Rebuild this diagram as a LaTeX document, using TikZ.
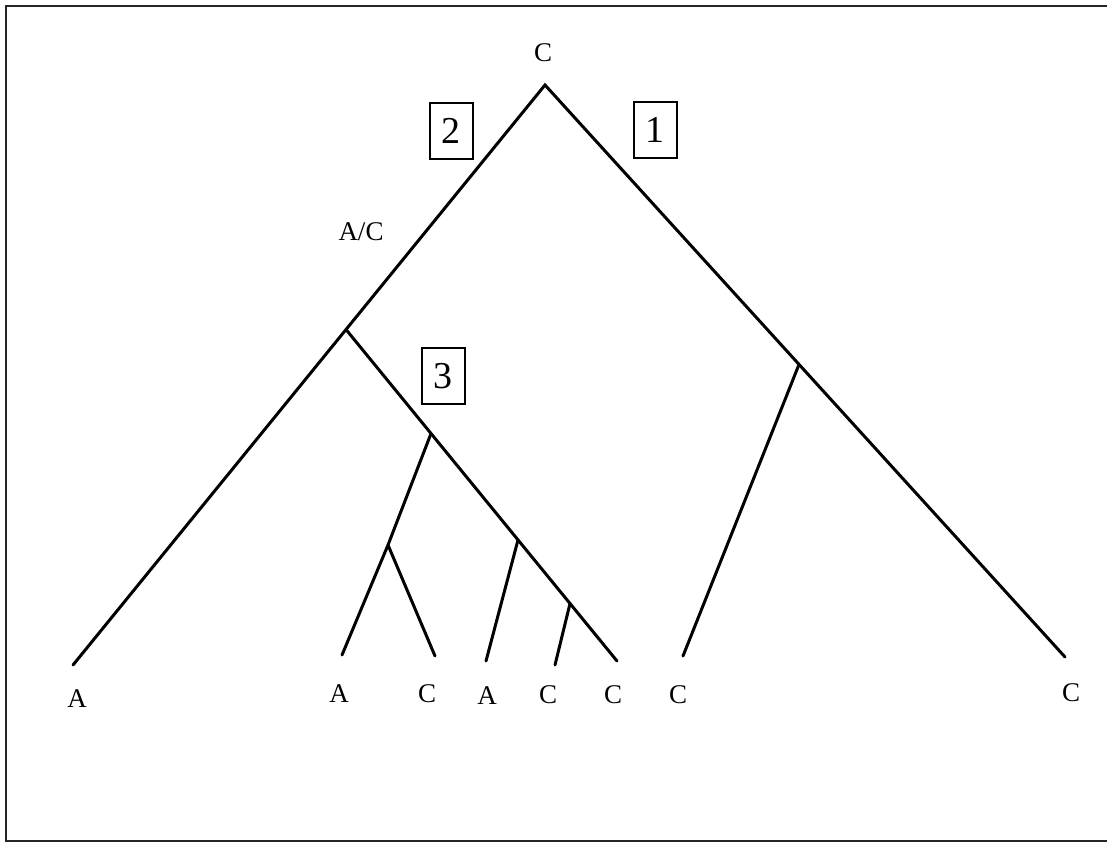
\documentclass[tikz,border=0pt]{standalone}
\usepackage{fontspec}
\setmainfont{Liberation Serif}
\usetikzlibrary{calc}
\begin{document}
\begin{tikzpicture}[x=1pt,y=-1pt,
  branch/.style={line width=3pt, line cap=round},
  leaflab/.style={font=\fontsize{27}{27}\selectfont, inner sep=0pt},
  numbox/.style={draw, line width=2pt, minimum width=43pt, minimum height=56pt, inner sep=0pt, font=\fontsize{38}{38}\selectfont},
  frame/.style={line width=2pt, draw=black!85}]
\useasboundingbox (0,0) rectangle (1107,842);
% frame
\draw[frame] (1107,6) -- (6,6) -- (6,841) -- (1107,841);
% tree points
\coordinate (root) at (545,85);
\coordinate (lA) at (73,665);
\coordinate (rC) at (1065,657);
\coordinate (n1) at ($(root)!0.4216!(lA)$);
\coordinate (c5) at (617,661);
\coordinate (n2) at ($(n1)!0.3137!(c5)$);
\coordinate (n3) at (388,545);
\coordinate (l1) at (342,655);
\coordinate (l2) at (435,656);
\coordinate (n4) at ($(n1)!0.6347!(c5)$);
\coordinate (l3) at (486,661);
\coordinate (n5) at ($(n1)!0.8266!(c5)$);
\coordinate (l4) at (555,665);
\coordinate (n6) at ($(root)!0.4885!(rC)$);
\coordinate (l6) at (683,656);
% branches
\draw[branch] (lA) -- (root) -- (rC);
\draw[branch] (n1) -- (c5);
\draw[branch] (n2) -- (n3) -- (l1);
\draw[branch] (n3) -- (l2);
\draw[branch] (n4) -- (l3);
\draw[branch] (n5) -- (l4);
\draw[branch] (n6) -- (l6);
% labels
\node[leaflab] (troot) at (543,53) {C};
\node[leaflab] (tac) at (361,232) {A/C};
\node[leaflab] (tA1) at (77,699) {A};
\node[leaflab] (tA2) at (339,694) {A};
\node[leaflab] (tC2) at (427,694) {C};
\node[leaflab] (tA3) at (487,696) {A};
\node[leaflab] (tC3) at (548,695) {C};
\node[leaflab] (tC4) at (613,695) {C};
\node[leaflab] (tC5) at (678,695) {C};
\node[leaflab] (tC6) at (1071,693) {C};
% boxes
\node[numbox] (b2) at (451,131) {2};
\node[numbox] (b1) at (655,130) {1};
\node[numbox] (b3) at (443,376) {3};
\end{tikzpicture}
\end{document}
